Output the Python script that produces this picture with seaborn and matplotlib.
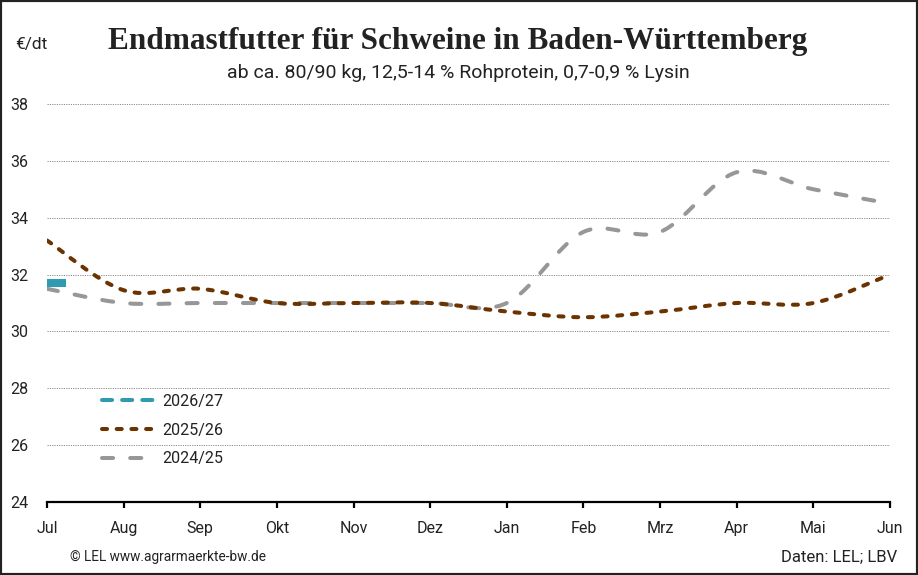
import numpy as np
import pandas as pd
import matplotlib
matplotlib.use('Agg')
import matplotlib.pyplot as plt
from matplotlib.path import Path
from matplotlib.patches import PathPatch, Rectangle
from matplotlib.lines import Line2D
import seaborn as sns

# Monatswerte in Euro je dt, Wirtschaftsjahr Juli bis Juni
monate = ['Jul', 'Aug', 'Sep', 'Okt', 'Nov', 'Dez', 'Jan', 'Feb', 'Mrz', 'Apr', 'Mai', 'Jun']
preis_2024_25 = [31.5, 31.0, 31.0, 31.0, 31.0, 31.0, 31.0, 33.5, 33.5, 35.6, 35.0, 34.5]
preis_2025_26 = [33.2, 31.45, 31.5, 31.0, 31.0, 31.0, 30.7, 30.5, 30.7, 31.0, 31.0, 32.0]
preis_2026_27 = [31.7]
y_ticks = [24, 26, 28, 30, 32, 34, 36, 38]

farbe_2024 = '#979797'
farbe_2025 = '#6b3300'
farbe_2026 = '#2e9bb0'


def spline_path(xs, ys):
    # Catmull-Rom-Kurve als kubische Bezier-Segmente
    pts = np.column_stack([xs, ys]).astype(float)
    ext = np.vstack([pts[:1], pts, pts[-1:]])
    verts = [tuple(pts[0])]
    codes = [Path.MOVETO]
    for i in range(len(pts) - 1):
        p0, p1, p2, p3 = ext[i], ext[i + 1], ext[i + 2], ext[i + 3]
        c1 = p1 + (p2 - p0) / 6
        c2 = p2 - (p3 - p1) / 6
        verts += [tuple(c1), tuple(c2), tuple(p2)]
        codes += [Path.CURVE4] * 3
    return Path(verts, codes)


sns.set_theme(style='white')
plt.rcParams['font.family'] = ['Roboto', 'DejaVu Sans']
plt.rcParams['text.color'] = '#222222'

fig, ax = plt.subplots(figsize=(9.18, 5.75), dpi=100)
fig.subplots_adjust(left=47 / 918, right=890 / 918, bottom=73 / 575, top=471 / 575)

x = np.arange(len(monate))
lw = 2.9
muster_2024 = (2.75, 4.25)
muster_2025 = (1.25, 2.4)
muster_2026 = (2.5, 2.5)

for werte, farbe, muster in [(preis_2024_25, farbe_2024, muster_2024),
                             (preis_2025_26, farbe_2025, muster_2025)]:
    patch = PathPatch(spline_path(x, werte), facecolor='none', edgecolor=farbe,
                      lw=lw, linestyle=(0, muster), capstyle='round', zorder=3)
    ax.add_patch(patch)

# nur ein Wert fuer 2026/27 -> kurzer Balken
balken = Path([(0, -0.21), (1, -0.21), (1, 0.21), (0, 0.21), (0, -0.21)])
df_2026 = pd.DataFrame({'x': x[:len(preis_2026_27)], 'preis': preis_2026_27})
sns.scatterplot(data=df_2026, x='x', y='preis', marker=balken, s=750,
                color=farbe_2026, edgecolor='none', ax=ax, zorder=4, legend=False)

ax.set_xlim(0, 11)
ax.set_ylim(24, 38)
ax.set_xticks(x)
ax.set_xticklabels(monate)
ax.set_yticks(y_ticks)
ax.set_xlabel('')
ax.set_ylabel('')
ax.grid(axis='y', color='#8a8a8a', lw=0.7, linestyle=(0, (1.2, 1.2)))
ax.grid(axis='x', visible=False)
for s in ['left', 'right', 'top']:
    ax.spines[s].set_visible(False)
ax.spines['bottom'].set_color('black')
ax.spines['bottom'].set_linewidth(1.6)
ax.spines['bottom'].set_zorder(5)
ax.tick_params(axis='x', bottom=True, length=4.5, width=1.6, color='black',
               pad=9, labelsize=11.5, labelcolor='#222222')
ax.tick_params(axis='y', left=False, length=0, pad=26.5, labelsize=11.5,
               labelcolor='#222222')
for lab in ax.get_yticklabels():
    lab.set_horizontalalignment('left')

handles = [
    Line2D([], [], color=farbe_2026, lw=lw, dashes=muster_2026, dash_capstyle='round'),
    Line2D([], [], color=farbe_2025, lw=lw, dashes=muster_2025, dash_capstyle='round'),
    Line2D([], [], color=farbe_2024, lw=lw, dashes=muster_2024, dash_capstyle='round'),
]
ax.legend(handles, ['2026/27', '2025/26', '2024/25'], loc='center left',
          bbox_to_anchor=((102 - 47) / 843, (502 - 430) / 398), frameon=False,
          handlelength=3.5, handletextpad=0.25, labelspacing=0.87,
          borderpad=0, borderaxespad=0, fontsize=11.5)

fig.text(0.498, 1 - 42 / 575, 'Endmastfutter für Schweine in Baden-Württemberg',
         ha='center', va='center', family=['Liberation Serif', 'DejaVu Serif'],
         weight='bold', size=22.5, color='#222222')
fig.text(0.4995, 1 - 73 / 575, 'ab ca. 80/90 kg, 12,5-14 % Rohprotein, 0,7-0,9 % Lysin',
         ha='center', va='center', size=14, color='#222222')
fig.text(15 / 918, 1 - 44 / 575, '€/dt', ha='left', va='center', size=12.5, color='#222222')
fig.text(70 / 918, 1 - 557 / 575, '© LEL www.agrarmaerkte-bw.de', ha='left', va='center',
         size=9.8, color='#222222')
fig.text(897 / 918, 1 - 557 / 575, 'Daten: LEL; LBV', ha='right', va='center',
         size=12, color='#222222')

fig.patches.append(Rectangle((0, 0), 1, 1, transform=fig.transFigure, fill=False,
                             edgecolor='#222222', lw=3, zorder=10))

fig.savefig('out.png', dpi=100)
